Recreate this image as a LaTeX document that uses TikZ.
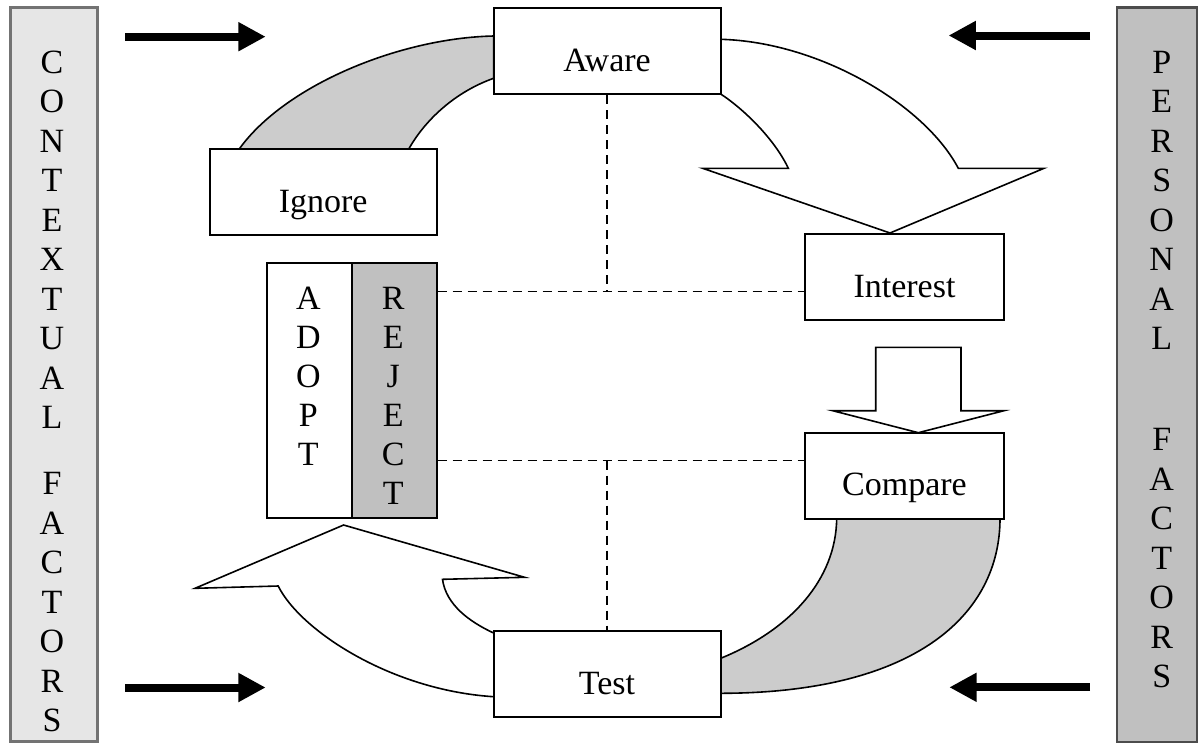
\documentclass[tikz,border=0pt]{standalone}
\usepackage{fontspec}
\setmainfont{Liberation Serif}
\usetikzlibrary{arrows.meta}
\newcommand\labfont{\fontsize{17}{19.75}\selectfont}
\newcommand\colfont{\fontsize{17}{19.75}\selectfont}
\newcommand\adfont{\fontsize{17}{19.5}\selectfont}
\definecolor{arcgray}{HTML}{CCCCCC}
\definecolor{rejgray}{HTML}{C0C0C0}
\definecolor{ctxgray}{HTML}{E6E6E6}
\definecolor{pergray}{HTML}{C0C0C0}
\begin{document}
\begin{tikzpicture}[x=0.5pt,y=-0.5pt,
  stagebox/.style={draw, line width=1pt, fill=white, minimum height=43pt, inner sep=0pt, text height=20.2pt, text depth=0pt, font=\labfont},
  wide/.style={minimum width=113.5pt},
  narrow/.style={minimum width=99.5pt},
  halfbox/.style={draw, line width=1pt, minimum width=42.5pt, minimum height=127.5pt, inner sep=0pt},
  colword/.style={align=center, font=\colfont, inner sep=0pt},
  shapeline/.style={line width=0.8pt, line join=miter},
  dashline/.style={line width=0.75pt, dash pattern=on 4.5pt off 3pt},
  bigarrow/.style={line width=4pt, -{Triangle[length=13.7pt,width=13.7pt]}},
]
\useasboundingbox (0,0) rectangle (1198,745);

% side boxes
\node[draw=black!55, line width=1.5pt, fill=ctxgray, minimum width=43.5pt, minimum height=367.3pt, inner sep=0pt] (ctxbox) at (53.5,374.6) {};
\node[draw=black!70, line width=1.2pt, fill=pergray, minimum width=40pt, minimum height=367.3pt, inner sep=0pt] (perbox) at (1156.8,374.6) {};
\node[colword] (ctx) at (52,239.75) {C\\O\\N\\T\\E\\X\\T\\U\\A\\L};
\node[colword] (lfac) at (52,602.5) {F\\A\\C\\T\\O\\R\\S};
\node[colword] (pers) at (1161.7,200.25) {P\\E\\R\\S\\O\\N\\A\\L};
\node[colword] (rfac) at (1161.7,558.5) {F\\A\\C\\T\\O\\R\\S};

% gray arc Ignore -> Aware
\filldraw[shapeline, fill=arcgray] (239,149.3) .. controls (285,85) and (400,38) .. (493.6,36) -- (493.6,78.3) .. controls (455,92) and (425,120) .. (408.6,149.3);
% white arrow Aware -> Interest
\filldraw[shapeline, fill=white] (720.7,94) .. controls (745,110) and (775,140) .. (788.3,168.3) -- (702.7,168.3) -- (890,233) -- (1044,168.3) -- (958.3,168.3) .. controls (925,105) and (820,42) .. (720.7,39.3);
% down arrow Interest -> Compare
\filldraw[shapeline, fill=white] (875.7,347.3) -- (961,347.3) -- (961,410.7) -- (1004,410.7) -- (918.3,432.7) -- (832.7,410.7) -- (875.7,410.7) -- cycle;
% gray arc Compare -> Test
\filldraw[shapeline, fill=arcgray] (836.7,518.3) .. controls (836,580) and (790,630) .. (720.7,658.3) -- (720.7,693.3) .. controls (915,693) and (1000,615) .. (1000,518.3);
% white arrow Test -> Adopt/Reject
\filldraw[shapeline, fill=white] (493.6,633) .. controls (470,622) and (446,605) .. (442.5,579.3) -- (524.6,577.3) -- (343.6,525) -- (195,588.3) -- (278.2,586) .. controls (300,630) and (390,690) .. (493.6,696.7);

% stage boxes
\node[stagebox, wide] (aware) at (607,51.2) {Aware};
\node[stagebox, wide] (ignore) at (323.2,192.2) {Ignore};
\node[stagebox, narrow] (interest) at (904.5,277) {Interest};
\node[stagebox, narrow] (compare) at (904.5,475.5) {Compare};
\node[stagebox, wide] (test) at (607,674.2) {Test};
\node[halfbox, fill=white] (adopt) at (309.2,390.8) {};
\node[halfbox, fill=rejgray] (reject) at (394.2,390.8) {};
\node[colword, font=\adfont] (adoptt) at (308.3,376.3) {A\\D\\O\\P\\T};
\node[colword, font=\adfont] (rejectt) at (393.3,395.8) {R\\E\\J\\E\\C\\T};

% dashed links
\coordinate (d1) at (607,291.7);
\coordinate (d2) at (607,460.5);
\draw[dashline] (aware.south) -- (d1);
\draw[dashline] (reject.east |- d1) -- (interest.west |- d1);
\draw[dashline] (reject.east |- d2) -- (compare.west |- d2);
\draw[dashline] (d2) -- (test.north);

% factor arrows
\coordinate (tl0) at (125,36.7);  \coordinate (tl1) at (265.7,36.7);
\coordinate (bl0) at (125,687.5); \coordinate (bl1) at (265.7,687.5);
\coordinate (tr0) at (1090,35.5); \coordinate (tr1) at (948.5,35.5);
\coordinate (br0) at (1090,687.3); \coordinate (br1) at (949.3,687.3);
\draw[bigarrow] (tl0) -- (tl1);
\draw[bigarrow] (bl0) -- (bl1);
\draw[bigarrow] (tr0) -- (tr1);
\draw[bigarrow] (br0) -- (br1);
\end{tikzpicture}
\end{document}
